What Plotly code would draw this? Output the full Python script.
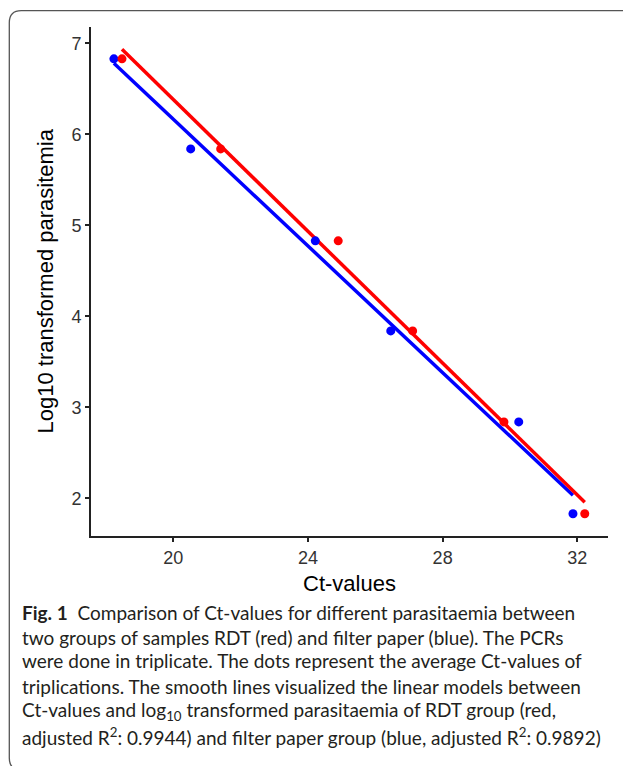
import numpy as np
import plotly.graph_objects as go

# Data
log_parasitaemia = [6.83, 5.84, 4.83, 3.84, 2.84, 1.83]
ct_rdt = [18.48, 21.41, 24.90, 27.11, 29.82, 32.22]
ct_filter = [18.24, 20.52, 24.22, 26.46, 30.26, 31.87]
x_ticks = [20, 24, 28, 32]
y_ticks = [2, 3, 4, 5, 6, 7]

caption_lines = [
    "<b>Fig. 1</b>  Comparison of Ct-values for different parasitaemia between",
    "two groups of samples RDT (red) and filter paper (blue). The PCRs",
    "were done in triplicate. The dots represent the average Ct-values of",
    "triplications. The smooth lines visualized the linear models between",
    "Ct-values and log<sub>10</sub> transformed parasitaemia of RDT group (red,",
    "adjusted R<sup>2</sup>: 0.9944) and filter paper group (blue, adjusted R<sup>2</sup>: 0.9892)",
]

W, H = 623, 766
L, R, T, B = 91, 15, 27, 230
PW, PH = W - L - R, H - T - B


def px(x):
    return (x - L) / PW


def py(y):
    return (H - B - y) / PH


fig = go.Figure()


def fit_line(xs, ys):
    k, c = np.polyfit(xs, ys, 1)
    xx = np.array([min(xs), max(xs)])
    return xx, k * xx + c


for xs, col in [(ct_filter, "#0000FF"), (ct_rdt, "#FF0000")]:
    xx, yy = fit_line(xs, log_parasitaemia)
    fig.add_trace(go.Scatter(x=xx, y=yy, mode="lines",
                             line=dict(color=col, width=3.5), hoverinfo="skip"))
for xs, col in [(ct_filter, "#0000FF"), (ct_rdt, "#FF0000")]:
    fig.add_trace(go.Scatter(x=xs, y=log_parasitaemia, mode="markers",
                             marker=dict(color=col, size=9)))

axis_common = dict(showline=True, linecolor="#222222", linewidth=1.8,
                   ticks="outside", ticklen=4, tickwidth=1.5, tickcolor="#222222",
                   showgrid=False, zeroline=False,
                   tickfont=dict(family="Liberation Sans, Arial", size=18, color="#333333"))

fig.update_xaxes(range=[17.56, 32.91], tickvals=x_ticks, **axis_common)
fig.update_yaxes(range=[1.586, 7.18], tickvals=y_ticks, **axis_common)

annotations = [
    dict(text="Ct-values", x=0.5, y=py(583), xref="paper", yref="paper",
         xanchor="center", yanchor="middle", showarrow=False,
         font=dict(family="Liberation Sans, Arial", size=22, color="#000000")),
    dict(text="Log10 transformed parasitemia", x=px(45), y=0.5, xref="paper", yref="paper",
         xanchor="center", yanchor="middle", showarrow=False, textangle=-90,
         font=dict(family="Liberation Sans, Arial", size=22, color="#000000")),
]
line_y = [612, 637, 661, 686, 711, 736]
for txt, yy in zip(caption_lines, line_y):
    annotations.append(dict(text=txt, x=px(20), y=py(yy), xref="paper", yref="paper",
                            xanchor="left", yanchor="middle", showarrow=False,
                            font=dict(family="Lato", size=19, color="#231f20")))

r = 12
frame_path = (f"M {px(630)} {py(10.7)} L {px(9.3 + r)} {py(10.7)} "
              f"Q {px(9.3)} {py(10.7)} {px(9.3)} {py(10.7 + r)} "
              f"L {px(9.3)} {py(758)} Q {px(9.3)} {py(770)} {px(9.3 + r)} {py(770)}")

fig.update_layout(
    width=W, height=H, margin=dict(l=L, r=R, t=T, b=B),
    paper_bgcolor="white", plot_bgcolor="white", showlegend=False,
    annotations=annotations,
    shapes=[dict(type="path", path=frame_path, xref="paper", yref="paper",
                 line=dict(color="#555555", width=1.3))],
)

fig.write_html("out.html")
